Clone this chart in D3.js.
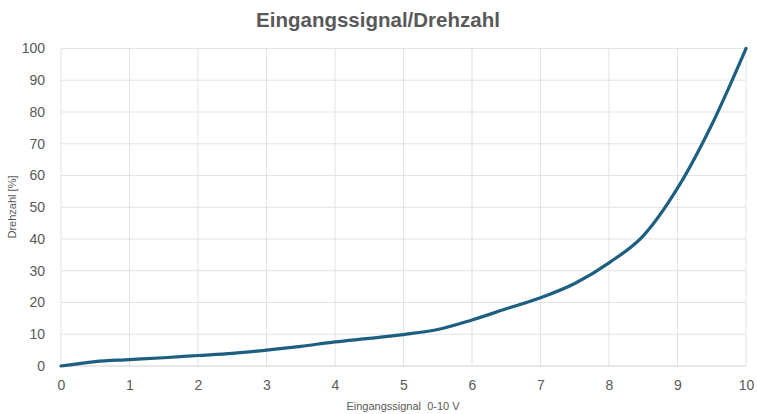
<!DOCTYPE html>
<html><head><meta charset="utf-8">
<script src="https://cdn.jsdelivr.net/npm/d3@7"></script>
<style>body{margin:0;background:#fff;}svg{display:block;font-family:"Liberation Sans",Arial,sans-serif;}</style>
</head><body>
<svg id="c" width="757" height="414"></svg>
<script>
const xVals = [0,0.5,1,1.5,2,2.5,3,3.5,4,4.5,5,5.5,6,6.5,7,7.5,8,8.5,9,9.5,10];
const yVals = [0,1.4,2.0,2.6,3.3,4.0,5.0,6.2,7.6,8.7,9.9,11.5,14.5,18,21.5,26,32.5,41,56,76,100];
const xTicks = [0,1,2,3,4,5,6,7,8,9,10];
const yTicks = [0,10,20,30,40,50,60,70,80,90,100];
const title = "Eingangssignal/Drehzahl";
const xLabel = "Eingangssignal  0-10 V";
const yLabel = "Drehzahl [%]";

const svg = d3.select("#c");
const x = d3.scaleLinear().domain([0,10]).range([61,746]);
const y = d3.scaleLinear().domain([0,100]).range([366,48.5]);

const g = svg.append("g");
g.selectAll(".hg").data(yTicks.filter(d=>d>0)).join("line")
 .attr("x1",x(0)).attr("x2",x(10)).attr("y1",d=>y(d)).attr("y2",d=>y(d))
 .attr("stroke","#e3e3e3").attr("stroke-width",1);
g.selectAll(".vg").data(xTicks).join("line")
 .attr("x1",d=>x(d)).attr("x2",d=>x(d)).attr("y1",y(0)).attr("y2",y(100))
 .attr("stroke","#e3e3e3").attr("stroke-width",1);
g.append("line").attr("x1",x(0)).attr("x2",x(10)).attr("y1",y(0)).attr("y2",y(0))
 .attr("stroke","#cfcfcf").attr("stroke-width",1);

const xAxis = d3.axisBottom(x).tickValues(xTicks).tickSize(0).tickPadding(14);
svg.append("g").attr("transform",`translate(0,${y(0)})`).call(xAxis)
 .call(a=>a.select(".domain").remove())
 .selectAll("text").attr("fill","#595959").style("font-size","14px");
const yAxis = d3.axisLeft(y).tickValues(yTicks).tickSize(0).tickPadding(16);
svg.append("g").attr("transform",`translate(${x(0)},0)`).call(yAxis)
 .call(a=>a.select(".domain").remove())
 .selectAll("text").attr("fill","#595959").style("font-size","14px");

const pts = xVals.map((v,i)=>[v,yVals[i]]);
svg.append("path").datum(pts)
 .attr("d",d3.line().x(d=>x(d[0])).y(d=>y(d[1])).curve(d3.curveMonotoneX))
 .attr("fill","none").attr("stroke","#1c5f80").attr("stroke-width",3.2).attr("stroke-linecap","round");

svg.append("text").attr("x",378).attr("y",27).attr("text-anchor","middle")
 .attr("fill","#595959").style("font-size","20.5px").style("font-weight","bold").text(title);
svg.append("text").attr("x",403).attr("y",410).attr("text-anchor","middle")
 .style("white-space","pre")
 .attr("fill","#595959").style("font-size","11px").text(xLabel);
svg.append("text").attr("transform","translate(16,207) rotate(-90)").attr("text-anchor","middle")
 .attr("fill","#595959").style("font-size","11px").text(yLabel);
</script>
</body></html>
